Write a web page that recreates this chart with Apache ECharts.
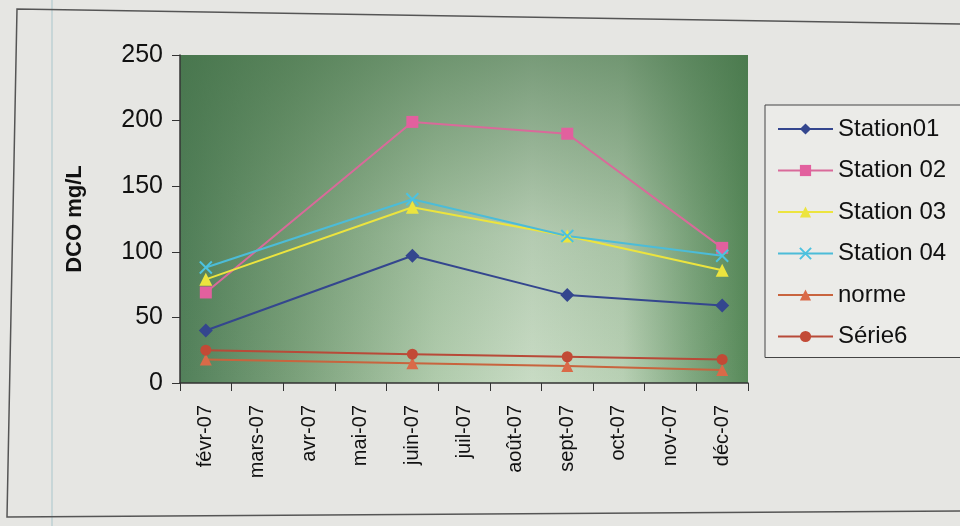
<!DOCTYPE html>
<html>
<head>
<meta charset="utf-8">
<script src="https://cdn.jsdelivr.net/npm/echarts@6/dist/echarts.min.js"></script>
<style>
  html, body { margin: 0; padding: 0; background: #e6e6e3; }
  #chart { width: 960px; height: 526px; }
</style>
</head>
<body>
<div id="chart"></div>
<script>
// Monthly sampling campaign, 2007
const months = ['févr-07', 'mars-07', 'avr-07', 'mai-07', 'juin-07', 'juil-07',
                'août-07', 'sept-07', 'oct-07', 'nov-07', 'déc-07'];

// DCO (mg/L) per station; null = no sample that month
const station01 = [40, null, null, null, 97, null, null, 67, null, null, 59];
const station02 = [69, null, null, null, 199, null, null, 190, null, null, 103];
const station03 = [79, null, null, null, 134, null, null, 112, null, null, 86];
const station04 = [88, null, null, null, 140, null, null, 112, null, null, 97];
const norme     = [18, null, null, null, 15, null, null, 13, null, null, 10];
const serie6    = [25, null, null, null, 22, null, null, 20, null, null, 18];

const yTicks = { min: 0, max: 250, step: 50 };

const PLOT = { left: 180, top: 55, width: 568, height: 328 };

function lineSeries(name, data, color, symbol, size, lineColor, extraItem) {
  return {
    name: name,
    type: 'line',
    data: data,
    connectNulls: true,
    symbol: symbol,
    symbolSize: size,
    lineStyle: { color: lineColor || color, width: 2 },
    itemStyle: Object.assign({ color: color }, extraItem || {}),
    emphasis: { disabled: true }
  };
}

const chart = echarts.init(document.getElementById('chart'), null, { renderer: 'canvas' });

chart.setOption({
  animation: false,
  backgroundColor: '#e6e6e3',
  textStyle: { fontFamily: '"Liberation Sans", Arial, sans-serif' },
  grid: {
    left: PLOT.left, top: PLOT.top, width: PLOT.width, height: PLOT.height,
    show: true, borderWidth: 0,
    backgroundColor: {
      type: 'linear', x: 0, y: 0, x2: 1, y2: 0,
      colorStops: [
        { offset: 0.00, color: '#52805a' },
        { offset: 0.20, color: '#7aa07a' },
        { offset: 0.45, color: '#b0cbac' },
        { offset: 0.62, color: '#c8dbc4' },
        { offset: 0.78, color: '#b8d0b4' },
        { offset: 0.90, color: '#80a880' },
        { offset: 1.00, color: '#588a5a' }
      ]
    }
  },
  graphic: [
    {
      type: 'rect', z: 1, silent: true,
      shape: { x: PLOT.left + 1, y: PLOT.top, width: PLOT.width - 1, height: PLOT.height - 1 },
      style: {
        fill: {
          type: 'linear', x: 0, y: 0, x2: 0, y2: 1,
          colorStops: [
            { offset: 0, color: 'rgba(66,112,70,0.6)' },
            { offset: 0.55, color: 'rgba(66,112,70,0.15)' },
            { offset: 1, color: 'rgba(66,112,70,0)' }
          ]
        }
      }
    },
    {
      type: 'line', silent: true,
      shape: { x1: 52, y1: 0, x2: 52, y2: 526 },
      style: { stroke: '#a9c6cc', lineWidth: 1 }
    },
    {
      type: 'polyline', silent: true,
      shape: { points: [[960, 24], [17, 9], [7, 517], [960, 511]] },
      style: { stroke: '#555', lineWidth: 1.5, fill: null }
    }
  ],
  legend: {
    orient: 'vertical',
    left: 765, top: 105,
    padding: [12, 20, 9, 12],
    backgroundColor: '#ebebe8',
    borderColor: '#444', borderWidth: 1,
    itemWidth: 55, itemHeight: 14, itemGap: 17.5,
    textStyle: { fontSize: 24, color: '#111', lineHeight: 22 },
    data: ['Station01', 'Station 02', 'Station 03', 'Station 04', 'norme', 'Série6']
  },
  xAxis: {
    type: 'category',
    data: months,
    boundaryGap: true,
    axisLine: { lineStyle: { color: '#333', width: 1.5 } },
    axisTick: { show: true, length: 8, lineStyle: { color: '#333' } },
    axisLabel: { rotate: 90, interval: 0, fontSize: 20, color: '#111', margin: 22 },
    splitLine: { show: false }
  },
  yAxis: {
    type: 'value',
    min: yTicks.min, max: yTicks.max, interval: yTicks.step,
    name: 'DCO mg/L',
    nameLocation: 'middle',
    nameRotate: 90,
    nameGap: 94,
    nameTextStyle: { fontSize: 22, fontWeight: 'bold', color: '#111' },
    axisLine: { show: true, lineStyle: { color: '#333', width: 1.5 } },
    axisTick: { show: true, length: 8, lineStyle: { color: '#333' } },
    axisLabel: { fontSize: 25, color: '#111', margin: 17 },
    splitLine: { show: false }
  },
  series: [
    lineSeries('Station01', station01, '#34468e', 'diamond', 14),
    lineSeries('Station 02', station02, '#e2609e', 'rect', 12, '#d96a9a'),
    lineSeries('Station 03', station03, '#ece43e', 'triangle', 13),
    lineSeries('Station 04', station04, '#4cc2e0', 'path://M0,0L10,10M10,0L0,10', 12, '#4cbcd8',
      { borderColor: '#4cc2e0', borderWidth: 2 }),
    lineSeries('norme', norme, '#da6a48', 'triangle', 12, '#c8643e'),
    lineSeries('Série6', serie6, '#c24a36', 'circle', 11, '#b84a38')
  ]
});
</script>
</body>
</html>
